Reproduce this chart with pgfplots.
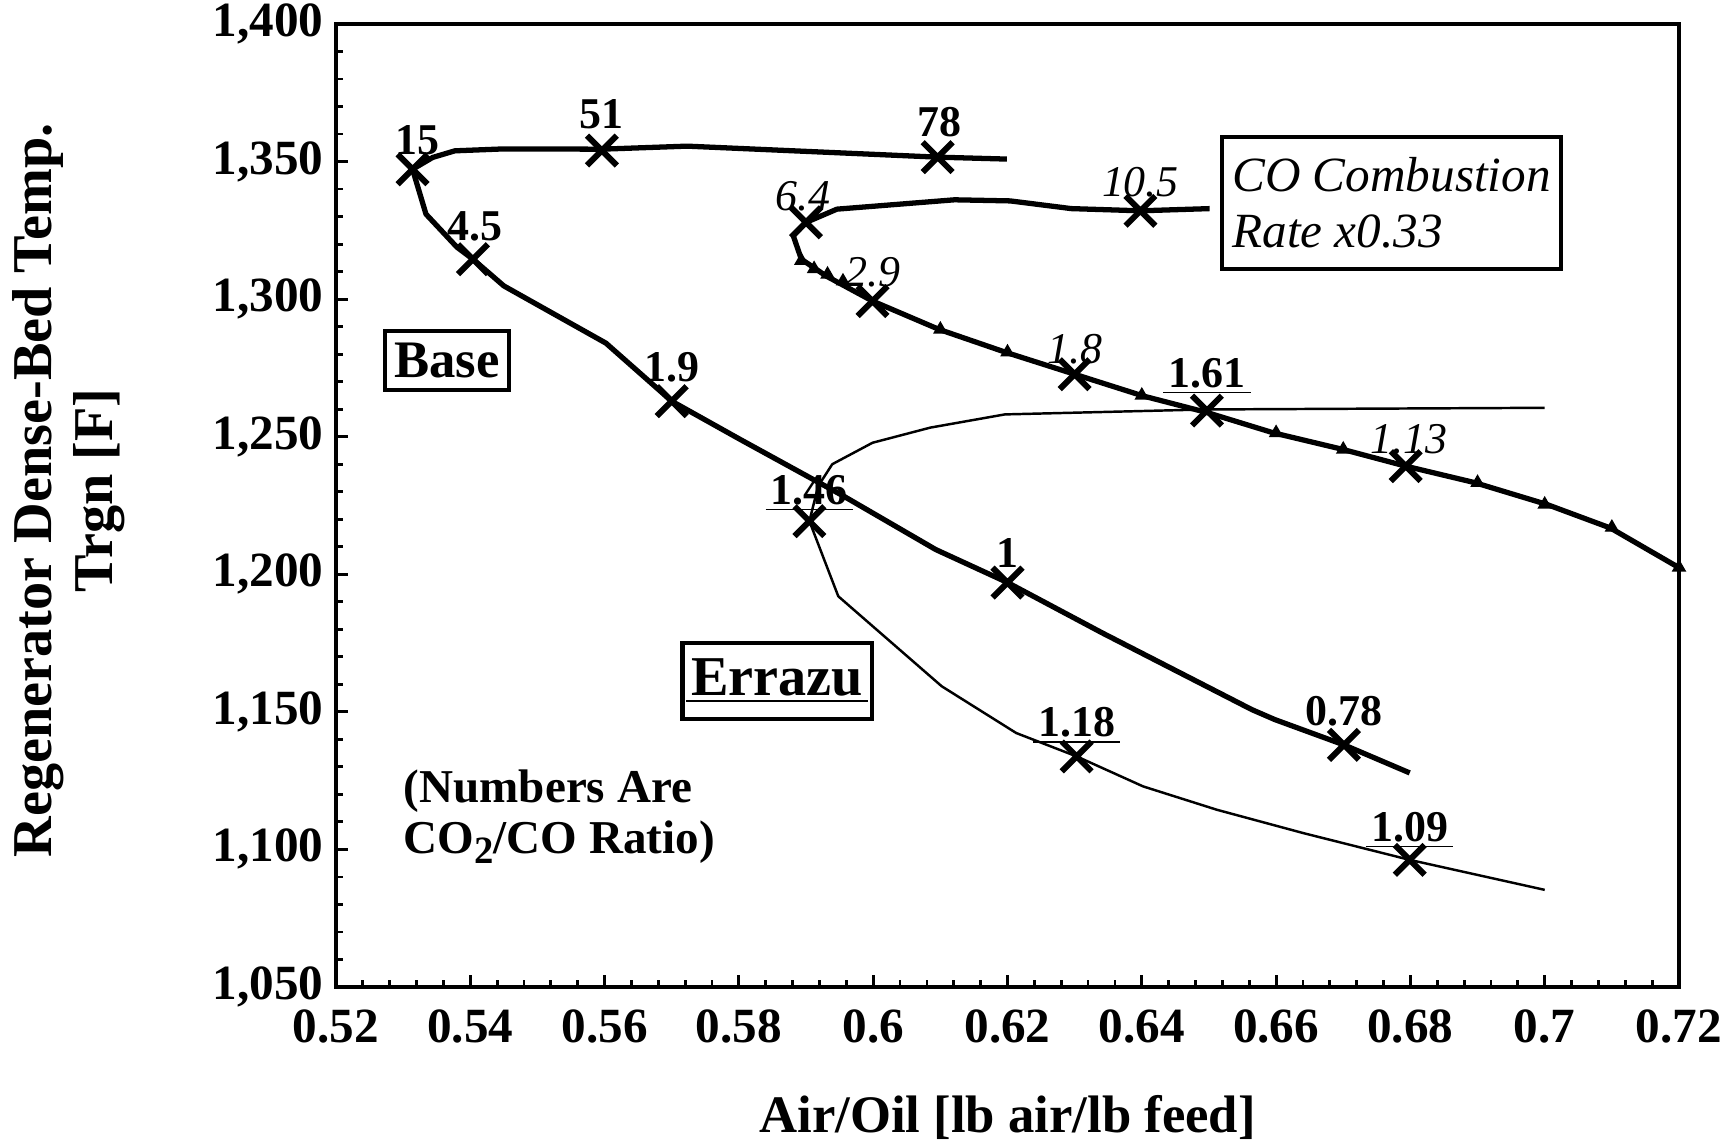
\documentclass[border=0pt]{standalone}
\usepackage{fontspec}
\setmainfont{Liberation Serif}
\usepackage{pgfplots}
\pgfplotsset{compat=1.18}
\usetikzlibrary{calc}

\newcommand{\ul}[1]{$\underline{\hbox{\kern1.5pt#1\kern1.5pt}}$}
\tikzset{
  lblB/.style={font=\bfseries\fontsize{12.5}{14}\selectfont, inner sep=0pt},
  lblU/.style={font=\bfseries\fontsize{12.5}{14}\selectfont, inner sep=0pt, anchor=base},
  lblI/.style={font=\itshape\fontsize{12.5}{14}\selectfont, inner sep=0pt},
  xm/.style={only marks, mark=x, mark size=6pt, mark options={line width=1.7pt}},
}

\begin{document}
\begin{tikzpicture}
\begin{axis}[
  scale only axis, width=13.43cm, height=9.63cm,
  xmin=0.52, xmax=0.72, ymin=1050, ymax=1400,
  xtick={0.52,0.54,0.56,0.58,0.6,0.62,0.64,0.66,0.68,0.7,0.72},
  ytick={1050,1100,1150,1200,1250,1300,1350,1400},
  minor x tick num=4, minor y tick num=4,
  tick align=inside, xtick pos=bottom, ytick pos=left,
  major tick length=0.12cm, minor tick length=0.07cm,
  every tick/.style={black, line width=0.8pt},
  axis line style={line width=1.3pt},
  tick label style={font=\bfseries\fontsize{14}{16}\selectfont},
  xticklabel style={yshift=-3pt},
  /pgf/number format/assume math mode=true,
  /pgf/number format/1000 sep={,},
  xlabel={Air/Oil [lb air/lb feed]},
  xlabel style={at={(rel axis cs:0.5,-0.135)}, anchor=center,
                font=\bfseries\fontsize{15}{17}\selectfont},
  ylabel={Regenerator Dense-Bed Temp.\\Trgn [F]},
  ylabel style={at={(rel axis cs:-0.1992,0.5156)}, anchor=center, align=center,
                font=\bfseries\fontsize{16}{17.5}\selectfont},
  clip=false,
]
\coordinate (bl) at (rel axis cs:0,0);
\coordinate (tr) at (rel axis cs:1,1);

% Base
\addplot[line width=1.5pt, line join=round] coordinates {
 (0.6199,1350.9) (0.6096,1351.6) (0.5723,1355.6) (0.5596,1354.5) (0.5450,1354.6)
 (0.5377,1353.9) (0.5344,1351.5) (0.5314,1347.2) (0.5334,1330.9) (0.5380,1318.9)
 (0.5404,1314.5) (0.5450,1304.8) (0.5602,1284) (0.5700,1262.9) (0.5802,1249)
 (0.5956,1228.4) (0.6033,1217.5) (0.6093,1209) (0.6200,1197) (0.6341,1178.7)
 (0.6564,1150.8) (0.6598,1147.2) (0.6701,1138) (0.6799,1127.8)};
\addplot[xm] coordinates {(0.5314,1347.2) (0.5596,1354) (0.6096,1351.6)
 (0.5404,1314.5) (0.5700,1262.9) (0.6200,1197) (0.6701,1138)};

% Errazu
\addplot[line width=0.7pt, line join=round] coordinates {
 (0.7000,1260.5) (0.6495,1259.9) (0.6196,1258.1) (0.6085,1253.3) (0.5999,1247.8)
 (0.5939,1240) (0.5918,1232) (0.5905,1219.3) (0.5948,1192) (0.6102,1159.3)
 (0.6213,1142.3) (0.6303,1133.8) (0.6402,1122.9) (0.6512,1114.4) (0.6641,1105.9)
 (0.6799,1096.2) (0.7000,1085.3)};
\addplot[xm] coordinates {(0.5905,1219.3) (0.6497,1259.5) (0.6303,1133.8) (0.6799,1096.2)};

% CO combustion rate x0.33
\addplot[line width=1.5pt, line join=round] coordinates {
 (0.6501,1332.9) (0.6398,1332.1) (0.6295,1332.9) (0.6204,1335.7) (0.6121,1336.1)
 (0.5946,1332.7) (0.5900,1327.9) (0.5881,1323) (0.5893,1314.5) (0.5930,1308.4)
 (0.5999,1299.3) (0.6098,1289) (0.6197,1280.7) (0.6300,1272.7) (0.6402,1264.8)
 (0.6497,1258.8) (0.6596,1251.4) (0.6699,1245.4) (0.6793,1239.3) (0.6896,1233.3)
 (0.7003,1225.4) (0.7098,1216.8) (0.7200,1202.4)};
\addplot[only marks, mark=triangle*, mark size=2pt] coordinates {
 (0.5893,1314) (0.5912,1311) (0.5932,1309) (0.5955,1306.5) (0.6100,1289)
 (0.6200,1280.7) (0.6400,1265) (0.6600,1251.4) (0.6700,1245.4) (0.6900,1233.3)
 (0.7000,1225.4) (0.7100,1217) (0.7200,1202.5)};
\addplot[xm] coordinates {(0.5900,1327.9) (0.6398,1332.1) (0.5999,1299.3)
 (0.6300,1272.7) (0.6793,1239.3)};

% point labels
\node[lblB] at (axis cs:0.5321,1357.6) {15};
\node[lblB] at (axis cs:0.5596,1367.3) {51};
\node[lblB] at (axis cs:0.6098,1364.3) {78};
\node[lblB] at (axis cs:0.5407,1326.6) {4.5};
\node[lblB] at (axis cs:0.5700,1275.2) {1.9};
\node[lblB] at (axis cs:0.6200,1207.9) {1};
\node[lblB] at (axis cs:0.6701,1150.2) {0.78};
\node[lblU] at (axis cs:0.5905,1225.5) {\ul{1.46}};
\node[lblU] at (axis cs:0.6497,1268) {\ul{1.61}};
\node[lblU] at (axis cs:0.6303,1141) {\ul{1.18}};
\node[lblU] at (axis cs:0.6799,1103) {\ul{1.09}};
\node[lblI] at (axis cs:0.5896,1337.5) {6.4};
\node[lblI] at (axis cs:0.5999,1309.8) {2.9};
\node[lblI] at (axis cs:0.6398,1342.5) {10.5};
\node[lblI] at (axis cs:0.6300,1281.8) {1.8};
\node[lblI] at (axis cs:0.6798,1249) {1.13};

% boxes and notes
\node[draw, line width=1.2pt, minimum width=1.24cm, minimum height=0.59cm, inner sep=1pt,
      font=\bfseries\fontsize{15}{17}\selectfont] at (axis cs:0.5365,1277.6) {Base};
\node[draw, line width=1.2pt, minimum width=1.62cm, minimum height=0.76cm, inner sep=1pt,
      font=\bfseries\fontsize{16}{18}\selectfont] at (axis cs:0.5857,1161.3) {\ul{Errazu}};
\node[draw, line width=1pt, minimum width=3.39cm, minimum height=1.32cm, align=left,
      inner sep=2pt, font=\itshape\fontsize{14}{16}\selectfont]
      at (axis cs:0.6772,1334.9) {CO Combustion\\Rate x0.33};
\node[align=left, inner sep=0pt, anchor=west, font=\bfseries\fontsize{13.4}{14.5}\selectfont]
      at (axis cs:0.5300,1111.9)
      {(Numbers Are\\CO\raisebox{-0.45ex}{\fontsize{11}{11}\selectfont 2}/CO Ratio)};
\end{axis}
\pgfresetboundingbox
\path ($(bl)+(-3.36cm,-1.57cm)$) rectangle ($(tr)+(0.47cm,0.24cm)$);
\end{tikzpicture}
\end{document}
